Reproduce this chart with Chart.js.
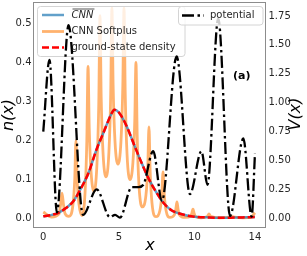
<!DOCTYPE html>
<html><head><meta charset="utf-8">
<script src="https://cdn.jsdelivr.net/npm/chart.js@4.4.0/dist/chart.umd.min.js"></script>
<style>html,body{margin:0;padding:0;background:#fff;overflow:hidden}#wrap{width:307px;height:256px}</style>
</head><body><div id="wrap"><canvas id="c" width="307" height="256"></canvas></div>
<script>
// ---- data ----
const xTicks = [0, 5, 10, 14];
const nTicks = [0, 0.1, 0.2, 0.3, 0.4, 0.5];
const vTicks = [0, 0.25, 0.5, 0.75, 1, 1.25, 1.5, 1.75];

const densX = [0,0.5,1,1.5,2,2.5,3,3.5,4,4.5,4.7,5,5.5,6,6.5,7,7.5,8,8.5,9,9.5,10,11,12,13,14];
const densY = [0.006,0.009,0.015,0.027,0.045,0.078,0.118,0.175,0.222,0.268,0.279,0.272,0.238,0.19,0.143,0.10,0.066,0.038,0.021,0.013,0.008,0.005,0.003,0.002,0.003,0.004];
const cnnY  = [0.006,0.009,0.015,0.027,0.045,0.078,0.118,0.175,0.222,0.268,0.279,0.272,0.238,0.19,0.143,0.10,0.066,0.038,0.021,0.013,0.008,0.005,0.003,0.002,0.003,0.004];

const softX = [0,0.55,1.04,1.14,1.24,1.34,1.44,1.7,1.96,2.08,2.16,2.24,2.36,2.56,2.76,2.88,2.96,3.04,3.16,3.36,3.55,3.67,3.75,3.83,3.95,4.15,4.34,4.46,4.54,4.62,4.74,4.94,5.14,5.26,5.34,5.42,5.54,5.74,5.93,6.05,6.13,6.21,6.33,6.56,6.79,6.91,6.99,7.07,7.19,7.45,7.72,7.84,7.92,8.0,8.12,8.38,8.66,8.76,8.84,8.92,9.02,9.37,9.74,9.82,9.9,9.98,10.06,10.43,10.86,10.96,11.06,11.7,12.3,12.48,12.66,13.2,13.7,14];
const softY = [0.017,0.004,0.012,0.035,0.065,0.035,0.013,0.006,0.035,0.10,0.20,0.10,0.037,0.008,0.065,0.20,0.39,0.23,0.12,0.07,0.14,0.295,0.52,0.31,0.17,0.107,0.17,0.32,0.54,0.34,0.20,0.14,0.20,0.34,0.54,0.32,0.165,0.10,0.145,0.25,0.40,0.215,0.085,0.03,0.06,0.13,0.235,0.12,0.04,0.005,0.022,0.062,0.12,0.062,0.021,0.003,0.009,0.023,0.043,0.023,0.009,0.003,0.006,0.013,0.024,0.013,0.006,0.002,0.006,0.012,0.006,0.002,0.004,0.006,0.004,0.002,0.003,0.015];

const potX = [0,0.41,0.9,1.67,2.63,3.53,4.41,4.75,5.07,5.85,6.3,6.62,7.27,7.85,8.82,9.7,10.46,10.86,11.57,12.35,13.23,13.78,14];
const potY = [0.75,1.37,0.05,1.67,0.03,0.25,0.01,0.03,0.005,0.27,0.27,0.29,0.58,0.15,1.40,0.21,0.58,0.29,1.73,0.02,0.69,0.015,0.56];

const pts = (xs, ys) => xs.map((x, i) => ({x: x, y: ys[i]}));
const FONT = 'DejaVu Sans';
const TXT = '#262626';

function fixW(w){ return s => { s.width = w; s.paddingTop = 0; s.paddingBottom = 0; }; }

const decor = {
  id: 'decor',
  beforeDatasetsDraw(chart){
    const {ctx, chartArea:a} = chart;
    ctx.save();
    ctx.strokeStyle = '#8c8c8c'; ctx.lineWidth = 1;
    ctx.strokeRect(a.left + 0.5, a.top + 0.5, a.right - a.left - 1, a.bottom - a.top - 1);
    ctx.restore();
  },
  afterDatasetDraw(chart, args){
    if (args.index !== 1) return;
    const ctx = chart.ctx;
    ctx.save();
    ctx.beginPath();
    ctx.roundRect(37.5, 6.5, 147.5, 50, 3);
    ctx.fillStyle = 'rgba(255,255,255,0.8)'; ctx.fill();
    ctx.strokeStyle = '#d4d4d4'; ctx.lineWidth = 1; ctx.stroke();
    const rows = [15, 31.5, 47.5];
    const hx0 = 42, hx1 = 64, tx = 71.5;
    ctx.lineCap = 'butt';
    ctx.lineWidth = 2.5; ctx.strokeStyle = 'rgba(31,119,180,0.7)';
    ctx.beginPath(); ctx.moveTo(hx0, rows[0]); ctx.lineTo(hx1, rows[0]); ctx.stroke();
    ctx.lineWidth = 2.8; ctx.strokeStyle = 'rgba(255,127,14,0.6)';
    ctx.beginPath(); ctx.moveTo(hx0, rows[1]); ctx.lineTo(hx1, rows[1]); ctx.stroke();
    ctx.lineWidth = 2.5; ctx.strokeStyle = '#ff0000'; ctx.setLineDash([7, 3]);
    ctx.beginPath(); ctx.moveTo(hx0, rows[2]); ctx.lineTo(hx1, rows[2]); ctx.stroke();
    ctx.setLineDash([]);
    ctx.fillStyle = TXT; ctx.textBaseline = 'middle'; ctx.textAlign = 'left';
    ctx.font = 'italic 10px "' + FONT + '"';
    ctx.fillText('CNN', tx, rows[0] + 0.5);
    const w = ctx.measureText('CNN').width;
    ctx.strokeStyle = TXT; ctx.lineWidth = 0.8;
    ctx.beginPath(); ctx.moveTo(tx + 1, rows[0] - 6); ctx.lineTo(tx + w + 1, rows[0] - 6); ctx.stroke();
    ctx.font = '10px "' + FONT + '"';
    ctx.fillText('CNN Softplus', tx, rows[1]);
    ctx.fillText('ground-state density', tx, rows[2]);
    ctx.restore();
  },
  afterDatasetsDraw(chart){
    const ctx = chart.ctx;
    ctx.save();
    ctx.beginPath();
    ctx.roundRect(178.5, 6.5, 84.5, 18.5, 3);
    ctx.fillStyle = 'rgba(255,255,255,0.8)'; ctx.fill();
    ctx.strokeStyle = '#d4d4d4'; ctx.lineWidth = 1; ctx.stroke();
    ctx.lineWidth = 2.3; ctx.strokeStyle = '#000'; ctx.setLineDash([12, 3.5, 2.5, 3.5]);
    ctx.beginPath(); ctx.moveTo(182, 15.5); ctx.lineTo(204, 15.5); ctx.stroke();
    ctx.setLineDash([]);
    ctx.fillStyle = TXT; ctx.textBaseline = 'middle'; ctx.textAlign = 'left';
    ctx.font = '10px "' + FONT + '"';
    ctx.fillText('potential', 210, 15.5);
    ctx.font = 'bold 11px "' + FONT + '"';
    ctx.fillStyle = '#000';
    ctx.fillText('(a)', 233, 76);
    ctx.restore();
  },
  afterDraw(chart){
    const ctx = chart.ctx;
    const title = (t, x, y, rot) => {
      ctx.save();
      ctx.fillStyle = '#000'; ctx.textAlign = 'center'; ctx.textBaseline = 'middle';
      ctx.font = 'italic 16px "' + FONT + '"';
      ctx.translate(x, y); if (rot) ctx.rotate(-Math.PI/2); ctx.fillText(t, 0, 0);
      ctx.restore();
    };
    title('n(x)', 9, 115, true);
    title('V(x)', 296, 114, true);
    title('x', 150, 246, false);
  }
};

new Chart(document.getElementById('c'), {
  type: 'line',
  data: {
    datasets: [
      { label: 'potential', data: pts(potX, potY), yAxisID: 'yR', borderColor: '#000', borderWidth: 2.3,
        borderDash: [12, 3.5, 2.5, 3.5], cubicInterpolationMode: 'monotone' },
      { label: 'ground-state density', data: pts(densX, densY), yAxisID: 'yL', borderColor: '#ff0000', borderWidth: 2.5,
        borderDash: [7, 3], cubicInterpolationMode: 'monotone' },
      { label: 'CNN', data: pts(densX, cnnY), yAxisID: 'yL', borderColor: 'rgba(31,119,180,0.7)', borderWidth: 2.5,
        cubicInterpolationMode: 'monotone' },
      { label: 'CNN Softplus', data: pts(softX, softY), yAxisID: 'yL', borderColor: 'rgba(255,127,14,0.6)', borderWidth: 2.8,
        cubicInterpolationMode: 'monotone' }
    ]
  },
  options: {
    responsive: false, animation: false, devicePixelRatio: 1,
    layout: { padding: { top: 2, left: 0, right: 0, bottom: 0 } },
    elements: { point: { radius: 0 }, line: { fill: false, borderCapStyle: 'butt' } },
    plugins: { legend: { display: false }, tooltip: { enabled: false } },
    scales: {
      x: { type: 'linear', min: -0.68, max: 14.73,
        afterBuildTicks: s => { s.ticks = xTicks.map(v => ({value: v})); },
        afterFit: s => { s.height = 28; s.paddingLeft = 0; s.paddingRight = 0; },
        ticks: { autoSkip: false, maxRotation: 0, padding: 3, color: TXT, font: { family: FONT, size: 10 },
          callback: v => String(v) },
        grid: { display: false, drawTicks: false }, border: { display: false } },
      yL: { type: 'linear', position: 'left', min: -0.024, max: 0.555,
        afterBuildTicks: s => { s.ticks = nTicks.map(v => ({value: v})); },
        afterFit: fixW(33),
        ticks: { autoSkip: false, padding: 1.5, color: TXT, font: { family: FONT, size: 10 },
          callback: v => Number(v).toFixed(1) },
        grid: { display: false, drawTicks: false }, border: { display: false } },
      yR: { type: 'linear', position: 'right', min: -0.084, max: 1.871,
        afterBuildTicks: s => { s.ticks = vTicks.map(v => ({value: v})); },
        afterFit: fixW(41),
        ticks: { autoSkip: false, padding: 2.5, color: TXT, font: { family: FONT, size: 10 },
          callback: v => Number(v).toFixed(2) },
        grid: { display: false, drawTicks: false }, border: { display: false } }
    }
  },
  plugins: [decor]
});
</script>
</body></html>
